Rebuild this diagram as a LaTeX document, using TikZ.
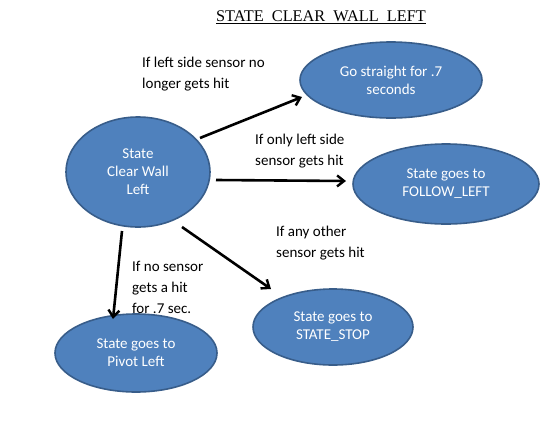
\documentclass[tikz,border=0pt]{standalone}
\usepackage{fontspec}
\setmainfont{Carlito}
\newfontfamily\titlefont{Liberation Serif}
\usetikzlibrary{shapes.geometric,arrows.meta}
\definecolor{stfill}{HTML}{4F81BD}
\definecolor{stline}{HTML}{385D8A}
\begin{document}
\begin{tikzpicture}[x=1pt,y=-1pt,
  state/.style={ellipse,draw=stline,line width=1.6pt,fill=stfill,text=white,align=center,inner sep=0pt,font=\fontsize{15}{18}\selectfont},
  lbl/.style={align=left,anchor=north west,inner sep=0pt,font=\fontsize{15}{21}\selectfont},
  conn/.style={line width=2.6pt,-{Straight Barb[length=7pt,width=11pt,line width=2.4pt]}}]
\useasboundingbox (0,0) rectangle (560,426);
\node[font=\titlefont\fontsize{16.3}{18}\selectfont,inner sep=0pt] (title) at (321,17) {\underline{STATE\ \ CLEAR\ \ WALL\ \ LEFT}};
\node[state,minimum width=144pt,minimum height=110pt] (c) at (138,172) {State\\Clear Wall\\Left};
\node[state,minimum width=182pt,minimum height=76pt] (g) at (391,80) {Go straight for .7\\seconds};
\node[state,minimum width=186pt,minimum height=80pt] (f) at (446,184) {State goes to\\FOLLOW\_LEFT};
\node[state,minimum width=160pt,minimum height=76pt] (s) at (333,327) {State goes to\\STATE\_STOP};
\node[state,minimum width=162pt,minimum height=78pt] (p) at (136,353) {State goes to\\Pivot Left};
\coordinate (g0) at (200,138); \coordinate (g1) at (302,97);
\coordinate (f0) at (216,180); \coordinate (f1) at (346,181);
\coordinate (s0) at (182,227); \coordinate (s1) at (271,289);
\coordinate (p0) at (122,231); \coordinate (p1) at (113,319);
\draw[conn] (g0) -- (g1);
\draw[conn] (f0) -- (f1);
\draw[conn] (s0) -- (s1);
\draw[conn] (p0) -- (p1);
\node[lbl] (lg) at (142,57) {If left side sensor no\\longer gets hit};
\node[lbl] (lf) at (255,134) {If only left side\\sensor gets hit};
\node[lbl] (ls) at (276,226) {If any other\\sensor gets hit};
\node[lbl] (lp) at (132,261) {If no sensor\\gets a hit\\for .7 sec.};
\end{tikzpicture}
\end{document}
